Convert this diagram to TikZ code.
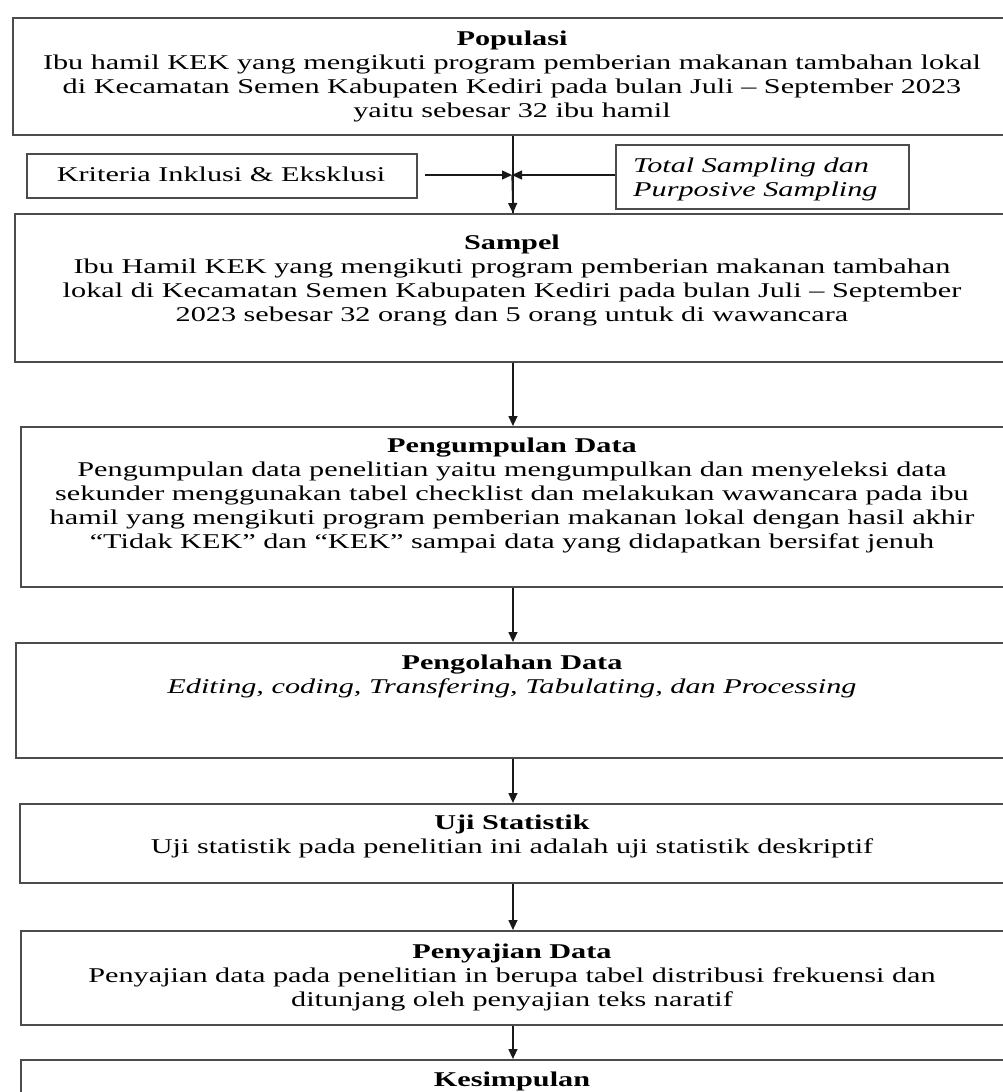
\documentclass[tikz,border=0pt]{standalone}
\usepackage{fontspec}
\setmainfont{Liberation Serif}[FakeStretch=1.44]
\usetikzlibrary{arrows.meta}
\begin{document}
\begin{tikzpicture}[x=1pt,y=-1pt,
  box/.style={draw=black!70, line width=1.9pt, rectangle, inner sep=0pt, anchor=north west},
  txt/.style={align=center, inner sep=0pt, anchor=north, font=\fontsize{21}{24}\selectfont},
  arr/.style={-{Triangle[length=10pt,width=9pt]}, line width=1.3pt, black!90}]
\clip (0,0) rectangle (1003,1092);
\fill[white] (0,0) rectangle (1003,1092);

% main boxes (centred on x = 512, right edges run off the page)
\node[box, minimum width=1000pt, minimum height=117pt] (pop) at (12,17) {};
\node[box, minimum width=996pt, minimum height=148pt] (sam) at (14,213) {};
\node[box, minimum width=984pt, minimum height=160pt] (pen) at (20,426) {};
\node[box, minimum width=994pt, minimum height=115pt] (olah) at (15,642) {};
\node[box, minimum width=986pt, minimum height=79pt] (uji) at (19,803) {};
\node[box, minimum width=984pt, minimum height=94pt] (saji) at (20,930) {};
\node[box, minimum width=984pt, minimum height=100pt] (kes) at (20,1059) {};

% side boxes
\node[box, minimum width=390pt, minimum height=44pt] (kri) at (26,153) {};
\node[box, minimum width=293pt, minimum height=64pt] (tot) at (615,144) {};

% texts
\node[txt] (popt) at (512,31) {\textbf{Populasi}\\
Ibu hamil KEK yang mengikuti program pemberian makanan tambahan lokal\\
di Kecamatan Semen Kabupaten Kediri pada bulan Juli -- September 2023\\
yaitu sebesar 32 ibu hamil};
\node[txt] (samt) at (512,235) {\textbf{Sampel}\\
Ibu Hamil KEK yang mengikuti program pemberian makanan tambahan\\
lokal di Kecamatan Semen Kabupaten Kediri pada bulan Juli -- September\\
2023 sebesar 32 orang dan 5 orang untuk di wawancara};
\node[txt] (pent) at (512,438) {\textbf{Pengumpulan Data}\\
Pengumpulan data penelitian yaitu mengumpulkan dan menyeleksi data\\
sekunder menggunakan tabel checklist dan melakukan wawancara pada ibu\\
hamil yang mengikuti program pemberian makanan lokal dengan hasil akhir\\
``Tidak KEK'' dan ``KEK'' sampai data yang didapatkan bersifat jenuh};
\node[txt] (olaht) at (512,655) {\textbf{Pengolahan Data}\\
\textit{Editing, coding, Transfering, Tabulating, dan Processing}};
\node[txt] (ujit) at (512,815) {\textbf{Uji Statistik}\\
Uji statistik pada penelitian ini adalah uji statistik deskriptif};
\node[txt] (sajit) at (512,944) {\textbf{Penyajian Data}\\
Penyajian data pada penelitian in berupa tabel distribusi frekuensi dan\\
ditunjang oleh penyajian teks naratif};
\node[txt] (kest) at (512,1072) {\textbf{Kesimpulan}};

\node[txt, anchor=center] (krit) at (221,174) {Kriteria Inklusi \& Eksklusi};
\node[txt, anchor=north west, align=left] (tott) at (633,158) {\textit{Total Sampling dan}\\ \textit{Purposive Sampling}};

% junction point on the vertical connector
\coordinate (j) at (512,175);
\coordinate (ka) at (425,175);

% connectors
\draw[line width=1.3pt, black!90] (pop.south) -- (sam.north);
\draw[arr] (j) -- (sam.north);
\draw[arr] (ka) -- (j);
\draw[arr] (tot.west |- j) -- (j);
\draw[arr] (sam.south) -- (pen.north);
\draw[arr] (pen.south) -- (olah.north);
\draw[arr] (olah.south) -- (uji.north);
\draw[arr] (uji.south) -- (saji.north);
\draw[arr] (saji.south) -- (kes.north);
\end{tikzpicture}
\end{document}
